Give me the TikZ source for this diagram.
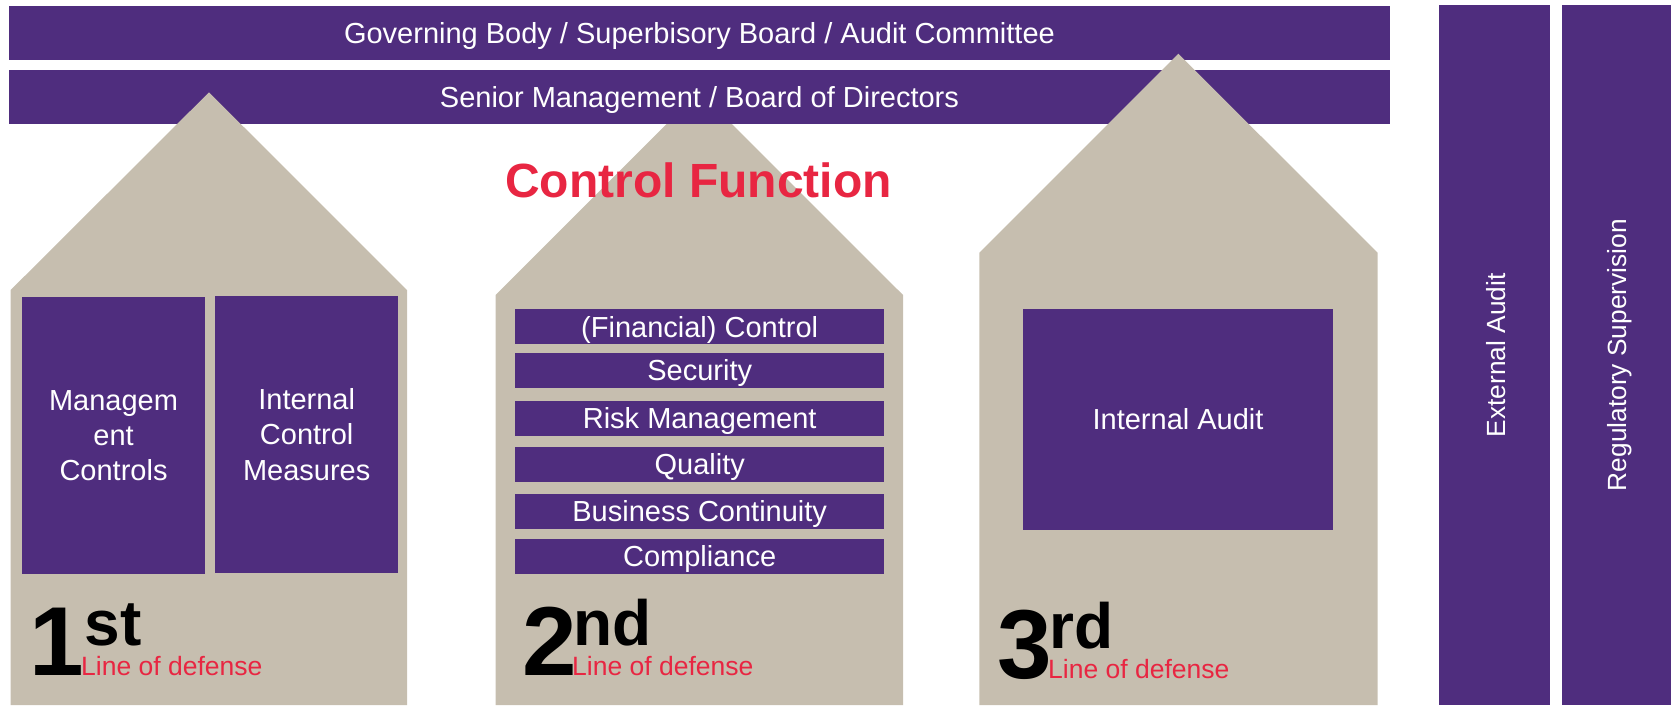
\documentclass[tikz,border=0pt]{standalone}
\usepackage{fontspec}
\setmainfont{Liberation Sans}

\definecolor{boardpurple}{RGB}{79,45,126}
\definecolor{housegray}{RGB}{198,190,175}
\definecolor{defensered}{RGB}{232,38,66}

\tikzset{
  bar/.style={fill=boardpurple, text=white, inner sep=0pt, anchor=north west,
    font=\fontsize{29}{35.3}\selectfont},
  oneline/.style={text height=21pt, text depth=0pt},
  house/.style={fill=housegray},
  lodnum/.style={anchor=base west, inner sep=0pt, font=\fontsize{98}{98}\selectfont\bfseries},
  lodsup/.style={anchor=base west, inner sep=0pt, font=\fontsize{64}{64}\selectfont\bfseries},
  lodtext/.style={anchor=base west, inner sep=0pt, text=defensered, font=\fontsize{26.5}{30}\selectfont},
}

\begin{document}
\begin{tikzpicture}[x=1pt,y=-1pt]
  \useasboundingbox (0,0) rectangle (1671,705);

  % middle house stays behind the boards
  \fill[house] (495.7,705) -- (495.7,295) -- (699.3,91.4) -- (903,295) -- (903,705) -- cycle;

  \begin{scope}[every node/.style={bar, oneline}]
    \node[minimum width=1381.5pt, minimum height=54pt] (gov) at (8.5,5.5) {Governing Body / Superbisory Board / Audit Committee};
    \node[minimum width=1381.5pt, minimum height=53.3pt] (senior) at (8.5,70) {Senior Management / Board of Directors};
  \end{scope}

  % the two outer houses reach over the boards
  \fill[house] (10.7,705) -- (10.7,290) -- (209,92.3) -- (407,290) -- (407,705) -- cycle;
  \fill[house] (979.3,705) -- (979.3,252.7) -- (1178.4,53.7) -- (1377.5,252.7) -- (1377.5,705) -- cycle;

  \node[anchor=base, inner sep=0pt, text=defensered, font=\fontsize{48}{48}\selectfont\bfseries] (ctrl) at (698.5,197.3) {Control Function};

  % 1st line
  \begin{scope}[every node/.style={bar, align=center}]
    \node[minimum width=182.7pt, minimum height=276.7pt] (mc) at (22,297) {Managem\\ent\\Controls};
    \node[minimum width=183pt, minimum height=276.7pt] (icm) at (215,296) {Internal\\Control\\Measures};
  \end{scope}

  % 2nd line
  \begin{scope}[every node/.style={bar, oneline, minimum width=369pt, minimum height=35pt}]
    \node (fin)  at (515,309) {(Financial) Control};
    \node (sec)  at (515,352.5) {Security};
    \node (risk) at (515,400.5) {Risk Management};
    \node (qual) at (515,446.5) {Quality};
    \node (bc)   at (515,493.5) {Business Continuity};
    \node (comp) at (515,538.5) {Compliance};
  \end{scope}

  % 3rd line
  \node[bar, oneline, minimum width=309.7pt, minimum height=220.5pt] (ia) at (1023,308.9) {Internal Audit};

  % outside the organisation
  \begin{scope}[every node/.style={bar, oneline, anchor=center, rotate=90, minimum width=699.6pt,
      font=\fontsize{26.3}{32}\selectfont}]
    \node[minimum height=111pt] (ext) at (1494.5,355.2) {External Audit};
    \node[minimum height=109.3pt] (reg) at (1616.4,355.2) {Regulatory Supervision};
  \end{scope}

  \node[lodnum] (n1) at (29,675) {1};
  \node[lodsup] (s1) at (84.7,645) {st};
  \node[lodtext] (l1) at (81,675) {Line of defense};

  \node[lodnum] (n2) at (522,675) {2};
  \node[lodsup] (s2) at (573.5,645.7) {nd};
  \node[lodtext] (l2) at (572,675) {Line of defense};

  \node[lodnum] (n3) at (997,678.5) {3};
  \node[lodsup] (s3) at (1049,648.6) {rd};
  \node[lodtext] (l3) at (1048,678) {Line of defense};

\end{tikzpicture}
\end{document}
